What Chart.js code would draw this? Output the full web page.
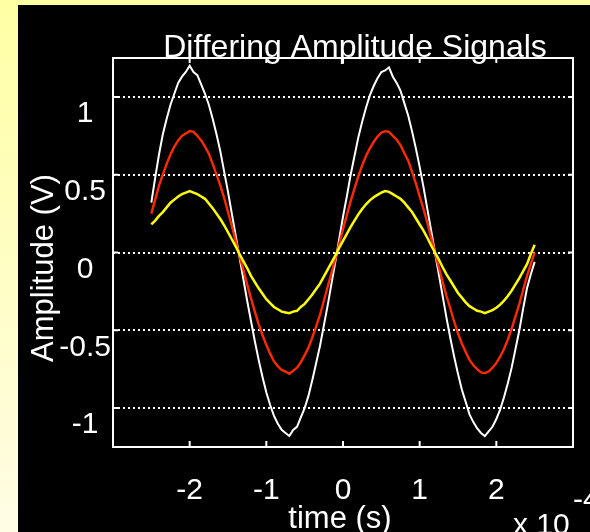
<!DOCTYPE html>
<html lang="en">
<head>
    <meta charset="UTF-8">
    <title>Differing Amplitude Signals</title>
    <script src="https://cdn.jsdelivr.net/npm/chart.js"></script>
    <style>
        html, body { margin: 0; padding: 0; }
        body {
            width: 590px;
            height: 532px;
            overflow: hidden;
            position: relative;
            background: linear-gradient(to bottom, #ffffa4, #fffde4);
        }
        #plotWrap {
            position: absolute;
            left: 18px;
            top: 5px;
            width: 572px;
            height: 527px;
            background: #000;
        }
    </style>
</head>
<body>
    <div id="plotWrap">
        <canvas id="signalChart" width="572" height="527"></canvas>
    </div>

    <script>
        // time axis in units of 1e-4 s
        const timeValues = [
            -2.5, -2.45, -2.4, -2.35, -2.3, -2.25, -2.2, -2.15, -2.1, -2.05,
            -2.0, -1.95, -1.9, -1.85, -1.8, -1.75, -1.7, -1.65, -1.6, -1.55,
            -1.5, -1.45, -1.4, -1.35, -1.3, -1.25, -1.2, -1.15, -1.1, -1.05,
            -1.0, -0.95, -0.9, -0.85, -0.8, -0.75, -0.7, -0.65, -0.6, -0.55,
            -0.5, -0.45, -0.4, -0.35, -0.3, -0.25, -0.2, -0.15, -0.1, -0.05,
            0.0, 0.05, 0.1, 0.15, 0.2, 0.25, 0.3, 0.35, 0.4, 0.45,
            0.5, 0.55, 0.6, 0.65, 0.7, 0.75, 0.8, 0.85, 0.9, 0.95,
            1.0, 1.05, 1.1, 1.15, 1.2, 1.25, 1.3, 1.35, 1.4, 1.45,
            1.5, 1.55, 1.6, 1.65, 1.7, 1.75, 1.8, 1.85, 1.9, 1.95,
            2.0, 2.05, 2.1, 2.15, 2.2, 2.25, 2.3, 2.35, 2.4, 2.45, 2.5
        ];
        const whiteSignal = [
            0.32, 0.48, 0.63, 0.76, 0.86, 0.95, 1.02, 1.09, 1.13, 1.16,
            1.20, 1.16, 1.14, 1.08, 1.02, 0.95, 0.86, 0.76, 0.65, 0.52,
            0.39, 0.25, 0.11, -0.03, -0.17, -0.31, -0.44, -0.57, -0.69, -0.80,
            -0.90, -0.98, -1.05, -1.10, -1.14, -1.16, -1.18, -1.14, -1.12, -1.06,
            -1.00, -0.92, -0.82, -0.71, -0.60, -0.47, -0.34, -0.20, -0.06, 0.085,
            0.23, 0.36, 0.50, 0.62, 0.74, 0.84, 0.93, 1.01, 1.07, 1.12,
            1.16, 1.17, 1.19, 1.13, 1.09, 1.04, 0.96, 0.88, 0.78, 0.67,
            0.55, 0.42, 0.28, 0.14, 0.00, -0.14, -0.28, -0.42, -0.55, -0.67,
            -0.78, -0.88, -0.96, -1.04, -1.09, -1.13, -1.16, -1.18, -1.15, -1.12,
            -1.07, -1.01, -0.93, -0.84, -0.74, -0.62, -0.50, -0.36, -0.23, -0.14, -0.06
        ];
        const redSignal = [
            0.25, 0.34, 0.43, 0.50, 0.57, 0.63, 0.68, 0.72, 0.75, 0.765,
            0.78, 0.775, 0.75, 0.72, 0.68, 0.635, 0.57, 0.50, 0.43, 0.35,
            0.26, 0.17, 0.075, -0.02, -0.11, -0.205, -0.295, -0.38, -0.46, -0.53,
            -0.595, -0.65, -0.70, -0.73, -0.755, -0.765, -0.78, -0.76, -0.74, -0.705,
            -0.66, -0.61, -0.545, -0.475, -0.40, -0.31, -0.22, -0.13, -0.04, 0.055,
            0.15, 0.24, 0.33, 0.41, 0.49, 0.56, 0.62, 0.67, 0.71, 0.745,
            0.77, 0.78, 0.775, 0.75, 0.725, 0.69, 0.64, 0.59, 0.52, 0.445,
            0.36, 0.28, 0.19, 0.095, 0.0, -0.095, -0.19, -0.28, -0.36, -0.445,
            -0.52, -0.585, -0.64, -0.69, -0.725, -0.75, -0.77, -0.775, -0.765, -0.74,
            -0.71, -0.67, -0.62, -0.56, -0.49, -0.41, -0.33, -0.24, -0.15, -0.075, 0.0
        ];
        const yellowSignal = [
            0.18, 0.205, 0.235, 0.26, 0.29, 0.32, 0.34, 0.36, 0.375, 0.385,
            0.395, 0.385, 0.375, 0.36, 0.345, 0.315, 0.285, 0.25, 0.215, 0.175,
            0.13, 0.085, 0.04, -0.01, -0.055, -0.10, -0.15, -0.19, -0.23, -0.265,
            -0.30, -0.325, -0.35, -0.365, -0.38, -0.385, -0.39, -0.38, -0.375, -0.35,
            -0.33, -0.30, -0.27, -0.235, -0.20, -0.155, -0.11, -0.065, -0.02, 0.03,
            0.075, 0.12, 0.165, 0.205, 0.245, 0.28, 0.31, 0.335, 0.355, 0.37,
            0.385, 0.395, 0.39, 0.375, 0.36, 0.345, 0.32, 0.29, 0.26, 0.22,
            0.18, 0.14, 0.095, 0.045, 0.0, -0.045, -0.095, -0.14, -0.18, -0.22,
            -0.26, -0.29, -0.32, -0.345, -0.36, -0.375, -0.38, -0.39, -0.38, -0.37,
            -0.355, -0.335, -0.31, -0.28, -0.245, -0.205, -0.165, -0.12, -0.075, -0.01, 0.05
        ];
        const xTickValues = [-2, -1, 0, 1, 2];
        const yTickValues = [-1, -0.5, 0, 0.5, 1];

        const FONT = '"Liberation Sans", Arial, Helvetica, sans-serif';

        function toPoints(values) {
            return timeValues.map((t, i) => ({ x: t, y: values[i] }));
        }

        // box, inward tick marks and the free texts
        const framePlugin = {
            id: 'frame',
            afterDraw(chart) {
                const { ctx, chartArea: a, scales: { x, y } } = chart;
                ctx.save();
                ctx.strokeStyle = '#ffffff';
                ctx.lineWidth = 2;
                ctx.strokeRect(a.left, a.top, a.right - a.left, a.bottom - a.top);

                ctx.beginPath();
                xTickValues.forEach(v => {
                    const px = x.getPixelForValue(v);
                    ctx.moveTo(px, a.bottom);
                    ctx.lineTo(px, a.bottom - 6);
                    ctx.moveTo(px, a.top);
                    ctx.lineTo(px, a.top + 5);
                });
                yTickValues.forEach(v => {
                    const py = y.getPixelForValue(v);
                    ctx.moveTo(a.left, py);
                    ctx.lineTo(a.left + 5, py);
                    ctx.moveTo(a.right, py);
                    ctx.lineTo(a.right - 5, py);
                });
                ctx.stroke();

                ctx.fillStyle = '#ffffff';
                ctx.textBaseline = 'alphabetic';

                ctx.font = '32px ' + FONT;
                ctx.textAlign = 'center';
                ctx.fillText('Differing Amplitude Signals', 337, 52);
                ctx.font = '31px ' + FONT;
                ctx.fillText('time (s)', 322, 523);

                ctx.textAlign = 'left';
                ctx.font = '30px ' + FONT;
                ctx.fillText('x 10', 495, 529);
                ctx.fillText('-4', 555, 504);

                ctx.save();
                ctx.translate(35, 263);
                ctx.rotate(-Math.PI / 2);
                ctx.textAlign = 'center';
                ctx.font = '31px ' + FONT;
                ctx.fillText('Amplitude (V)', 0, 0);
                ctx.restore();

                ctx.restore();
            }
        };

        const ctx = document.getElementById('signalChart').getContext('2d');
        new Chart(ctx, {
            type: 'line',
            data: {
                datasets: [
                    { data: toPoints(whiteSignal), borderColor: '#ffffff', borderWidth: 2, order: 3 },
                    { data: toPoints(redSignal), borderColor: '#ff2a00', borderWidth: 2.4, order: 2 },
                    { data: toPoints(yellowSignal), borderColor: '#ffff00', borderWidth: 2.5, order: 1 }
                ]
            },
            options: {
                responsive: false,
                animation: false,
                elements: {
                    point: { radius: 0 },
                    line: { tension: 0, fill: false }
                },
                layout: {
                    padding: { top: 53, right: 17, left: 0, bottom: 0 }
                },
                plugins: {
                    legend: { display: false },
                    tooltip: { enabled: false },
                    title: { display: false }
                },
                scales: {
                    x: {
                        type: 'linear',
                        min: -3,
                        max: 3,
                        afterBuildTicks: scale => {
                            scale.ticks = xTickValues.map(v => ({ value: v }));
                        },
                        afterFit: scale => { scale.height = 85; },
                        grid: { display: false, drawTicks: false },
                        border: { display: false },
                        ticks: {
                            color: '#ffffff',
                            font: { family: FONT, size: 30 },
                            padding: 26,
                            maxRotation: 0,
                            callback: v => String(v)
                        }
                    },
                    y: {
                        type: 'linear',
                        min: -1.25,
                        max: 1.25,
                        afterBuildTicks: scale => {
                            scale.ticks = yTickValues.map(v => ({ value: v }));
                        },
                        afterFit: scale => { scale.width = 95; },
                        grid: {
                            color: '#ffffff',
                            lineWidth: 2,
                            drawTicks: false
                        },
                        border: { display: false, dash: [2, 3] },
                        ticks: {
                            color: '#ffffff',
                            font: { family: FONT, size: 30 },
                            crossAlign: 'center',
                            padding: 2,
                            labelOffset: 17,
                            callback: v => String(v)
                        }
                    }
                }
            },
            plugins: [framePlugin]
        });
    </script>
</body>
</html>
